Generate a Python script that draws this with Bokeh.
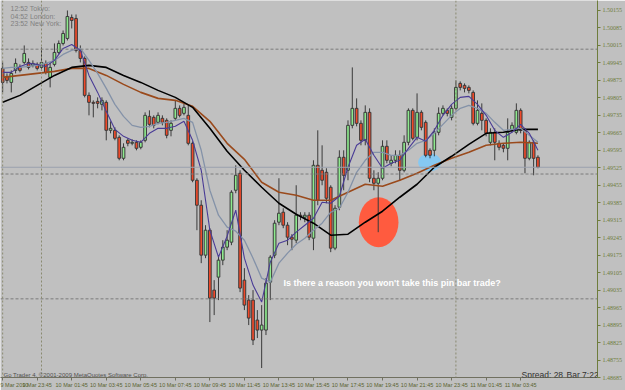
from bokeh.plotting import figure
from bokeh.models import FixedTicker, Span, Label, Range1d, PrintfTickFormatter
from bokeh.embed import file_html
from bokeh.resources import INLINE

# ---------------- data (M15 candles) ----------------
opens = [1.49923,1.49891,1.49867,1.49915,1.49927,1.49947,1.49947,1.49935,1.49939,1.49927,
         1.49943,1.49887,1.49939,1.49987,1.50023,1.50043,1.50127,1.50123,1.49995,1.49963,
         1.49815,1.49787,1.49791,1.49779,1.49787,1.49675,1.49675,1.49647,1.49563,1.49635,
         1.49623,1.49627,1.49607,1.49635,1.49731,1.49727,1.49707,1.49723,1.49715,1.49675,
         1.49723,1.49763,1.49743,1.49735,1.49623,1.49475,1.49375,1.49175,1.49275,1.49035,
         1.49087,1.49155,1.49207,1.49227,1.49435,1.49503,1.49075,1.48995,1.48995,1.48915,
         1.48875,1.48875,1.49067,1.49175,1.49307,1.49347,1.49295,1.49247,1.49235,1.49335,
         1.49327,1.49335,1.49243,1.49535,1.49515,1.49507,1.49447,1.49203,1.49367,1.49567,
         1.49515,1.49695,1.49763,1.49703,1.49635,1.49747,1.49483,1.49463,1.49483,1.49611,
         1.49543,1.49555,1.49575,1.49515,1.49627,1.49755,1.49647,1.49747,1.49707,1.49595,
         1.49595,1.49667,1.49743,1.49755,1.49727,1.49763,1.49863,1.49855,1.49847,1.49827,
         1.49703,1.49743,1.49715,1.49627,1.49667,1.49623,1.49615,1.49603,1.49675,1.49667,
         1.49755,1.49675,1.49563,1.49627,1.49567]
highs = [1.49947,1.49903,1.49915,1.49963,1.49939,1.50015,1.49963,1.49955,1.49947,1.50007,
         1.49955,1.49947,1.50023,1.50035,1.50075,1.50155,1.50139,1.50139,1.50015,1.49971,
         1.49827,1.49795,1.49807,1.49807,1.49795,1.49711,1.49687,1.49655,1.49623,1.49643,
         1.49639,1.49635,1.49635,1.49747,1.49755,1.49735,1.49747,1.49735,1.49723,1.49715,
         1.49795,1.49775,1.49783,1.49775,1.49631,1.49483,1.49395,1.49295,1.49283,1.49075,
         1.49175,1.49235,1.49275,1.49435,1.49535,1.49515,1.49123,1.49015,1.49035,1.48955,
         1.48975,1.49083,1.49175,1.49315,1.49483,1.49363,1.49307,1.49259,1.49455,1.49347,
         1.49347,1.49347,1.49555,1.49675,1.49615,1.49523,1.49455,1.49375,1.49595,1.49595,
         1.49715,1.49927,1.49803,1.49715,1.49775,1.49763,1.49515,1.49507,1.49635,1.49635,
         1.49575,1.49595,1.49595,1.49655,1.49763,1.49763,1.49823,1.49755,1.49715,1.49603,
         1.49683,1.49767,1.49775,1.49763,1.49775,1.49875,1.49871,1.49863,1.49855,1.49835,
         1.49795,1.49783,1.49723,1.49683,1.49683,1.49635,1.49623,1.49723,1.49707,1.49783,
         1.49763,1.49683,1.49635,1.49635,1.49575]
lows = [1.49827,1.49863,1.49827,1.49903,1.49907,1.49939,1.49919,1.49927,1.49915,1.49915,
        1.49899,1.49847,1.49931,1.49979,1.50015,1.50035,1.50083,1.49987,1.49947,1.49807,
        1.49735,1.49727,1.49763,1.49755,1.49635,1.49663,1.49635,1.49555,1.49555,1.49611,
        1.49615,1.49595,1.49599,1.49627,1.49687,1.49683,1.49699,1.49695,1.49643,1.49651,
        1.49715,1.49727,1.49735,1.49615,1.49467,1.49275,1.49143,1.49163,1.48907,1.48935,
        1.48995,1.49135,1.49195,1.49215,1.49423,1.49027,1.48955,1.48895,1.48815,1.48843,
        1.48723,1.48855,1.48995,1.49163,1.49295,1.49283,1.49215,1.49195,1.49223,1.49315,
        1.49307,1.49235,1.49195,1.49375,1.49455,1.49383,1.49187,1.49195,1.49355,1.49435,
        1.49475,1.49683,1.49691,1.49615,1.49615,1.49467,1.49435,1.49267,1.49475,1.49543,
        1.49531,1.49543,1.49475,1.49507,1.49615,1.49635,1.49635,1.49675,1.49567,1.49563,
        1.49571,1.49655,1.49735,1.49731,1.49715,1.49755,1.49835,1.49827,1.49823,1.49695,
        1.49695,1.49675,1.49651,1.49615,1.49555,1.49595,1.49587,1.49555,1.49667,1.49659,
        1.49663,1.49503,1.49555,1.49495,1.49523]
closes = [1.49867,1.49875,1.49903,1.49943,1.49915,1.49983,1.49927,1.49943,1.49923,1.49947,
          1.49907,1.49927,1.49987,1.50023,1.50063,1.50131,1.50115,1.49995,1.49963,1.49815,
          1.49787,1.49783,1.49783,1.49795,1.49675,1.49683,1.49643,1.49563,1.49607,1.49623,
          1.49627,1.49603,1.49627,1.49735,1.49699,1.49695,1.49735,1.49707,1.49655,1.49703,
          1.49763,1.49735,1.49767,1.49623,1.49475,1.49375,1.49175,1.49275,1.49003,1.49003,
          1.49155,1.49207,1.49235,1.49427,1.49495,1.49043,1.48975,1.48923,1.48835,1.48875,
          1.48895,1.49063,1.49167,1.49303,1.49343,1.49295,1.49247,1.49239,1.49335,1.49331,
          1.49335,1.49247,1.49535,1.49395,1.49475,1.49403,1.49203,1.49363,1.49567,1.49495,
          1.49695,1.49763,1.49703,1.49635,1.49747,1.49483,1.49463,1.49483,1.49611,1.49555,
          1.49555,1.49575,1.49515,1.49627,1.49755,1.49643,1.49747,1.49687,1.49575,1.49575,
          1.49667,1.49743,1.49763,1.49743,1.49763,1.49847,1.49847,1.49843,1.49835,1.49703,
          1.49755,1.49715,1.49663,1.49667,1.49627,1.49607,1.49603,1.49667,1.49695,1.49755,
          1.49675,1.49563,1.49627,1.49563,1.49527]

slow_bars = list(range(0, 125, 4))
black_ma = [1.49787,1.49815,1.49855,1.49895,1.49927,1.49935,1.49927,1.49895,1.49867,1.49835,
            1.49807,1.49767,1.49683,1.49591,1.49515,1.49447,1.49383,1.49339,1.49303,1.49255,
            1.49259,1.49307,1.49351,1.49407,1.49459,1.49527,1.49571,1.49619,1.49663,1.49667,
            1.49679,1.49679]
brown_ma = [1.49887,1.49895,1.49903,1.49911,1.49923,1.49923,1.49895,1.49859,1.49827,1.49803,
            1.49795,1.49771,1.49711,1.49623,1.49559,1.49467,1.49427,1.49415,1.49395,1.49395,
            1.49427,1.49459,1.49451,1.49475,1.49503,1.49535,1.49563,1.49587,1.49615,1.49623,
            1.49627,1.49623]
fast_bars = list(range(0, 125, 2))
purple_ma = [1.49907,1.49907,1.49931,1.49943,1.49939,1.49931,1.49955,1.50003,1.50019,1.49995,
             1.49895,1.49827,1.49751,1.49679,1.49651,1.49635,1.49627,1.49663,1.49683,1.49683,
             1.49691,1.49711,1.49635,1.49515,1.49275,1.49167,1.49251,1.49355,1.49163,1.49055,
             1.48987,1.49147,1.49223,1.49235,1.49267,1.49295,1.49323,1.49387,1.49383,1.49411,
             1.49527,1.49615,1.49639,1.49575,1.49523,1.49543,1.49555,1.49603,1.49647,1.49631,
             1.49675,1.49735,1.49779,1.49807,1.49811,1.49779,1.49735,1.49675,1.49647,1.49667,
             1.49699,1.49663,1.49595]
gray_ma = [1.49923,1.49927,1.49927,1.49931,1.49935,1.49943,1.49955,1.49979,1.49995,1.50003,
           1.49955,1.49903,1.49843,1.49779,1.49731,1.49695,1.49687,1.49691,1.49703,1.49707,
           1.49715,1.49723,1.49707,1.49595,1.49435,1.49335,1.49287,1.49271,1.49235,1.49163,
           1.49083,1.49067,1.49143,1.49183,1.49219,1.49243,1.49275,1.49303,1.49347,1.49363,
           1.49427,1.49507,1.49555,1.49587,1.49587,1.49575,1.49575,1.49595,1.49623,1.49635,
           1.49663,1.49699,1.49735,1.49763,1.49775,1.49763,1.49743,1.49707,1.49675,1.49679,
           1.49683,1.49655,1.49627]

time_ticks = list(range(0, 125, 8))
time_labels = ["9 Mar 2010", "9 Mar 23:45", "10 Mar 01:45", "10 Mar 03:45", "10 Mar 05:45",
               "10 Mar 07:45", "10 Mar 09:45", "10 Mar 11:45", "10 Mar 13:45", "10 Mar 15:45",
               "10 Mar 17:45", "10 Mar 19:45", "10 Mar 21:45", "10 Mar 23:45", "11 Mar 01:45",
               "11 Mar 03:45"]
price_ticks = [1.50155, 1.50085, 1.50015, 1.49945, 1.49875, 1.49805, 1.49735, 1.49665,
               1.49595, 1.49525, 1.49455, 1.49385, 1.49315, 1.49245, 1.49175, 1.49105,
               1.49035, 1.48965, 1.48895, 1.48825, 1.48755, 1.48685]
day_separators = [9, 105]
round_levels = [1.50000, 1.49500, 1.49000]
clock_lines = ["12:52 Tokyo:", "04:52 London:", "23:52 New York:"]
note_text = "Is there a reason you won't take this pin bar trade?"

# highlight ellipses (bar index, price, width in bars, height in price)
red_mark = (87.1, 1.49307, 9.2, 0.0020)
blue_mark = (98.9, 1.49547, 5.3, 0.00072)

# ---------------- figure ----------------
BG = "#c0c0c0"
AX = "#6e7d3c"
FONT = "Liberation Sans"

p = figure(width=625, height=390, output_backend="svg", toolbar_location=None,
           y_axis_location="right", x_range=Range1d(-0.5, 137.8),
           y_range=Range1d(1.48685, 1.50195),
           min_border_left=0, min_border_top=0, min_border_right=0, min_border_bottom=0)
p.background_fill_color = BG
p.border_fill_color = BG
p.outline_line_color = None
p.xgrid.visible = False
p.ygrid.visible = False

p.yaxis.ticker = FixedTicker(ticks=price_ticks)
p.yaxis.formatter = PrintfTickFormatter(format="%.5f")
p.yaxis.axis_line_color = AX
p.yaxis.major_tick_line_color = AX
p.yaxis.major_tick_out = 3
p.yaxis.major_tick_in = 0
p.yaxis.minor_tick_line_color = None
p.yaxis.major_label_text_font_size = "6px"
p.yaxis.major_label_text_color = AX
p.yaxis.major_label_text_font = "Liberation Sans Narrow"
p.yaxis.major_label_standoff = 2

p.xaxis.ticker = FixedTicker(ticks=time_ticks)
p.xaxis.major_label_overrides = {t: l for t, l in zip(time_ticks, time_labels)}
p.xaxis.axis_line_color = "#707060"
p.xaxis.major_tick_line_color = "#707060"
p.xaxis.major_tick_out = 3
p.xaxis.major_tick_in = 0
p.xaxis.minor_tick_line_color = None
p.xaxis.major_label_text_font_size = "5.5px"
p.xaxis.major_label_text_color = "#5a6430"
p.xaxis.major_label_text_font = FONT
p.xaxis.major_label_standoff = 1
p.xaxis.major_label_text_align = "left"

# levels and separators
for lv in round_levels:
    p.add_layout(Span(location=lv, dimension="width", line_color="#7a7a7a",
                      line_dash="3 2", line_width=1))
p.add_layout(Span(location=closes[-1], dimension="width", line_color="#9aa0ae", line_width=1))
p.add_layout(Span(location=0, dimension="height", line_color="#8a8a70", line_dash="2 2"))
for d in day_separators:
    p.add_layout(Span(location=d, dimension="height", line_color="#8a8a70", line_dash="2 2"))

# highlight ellipses
p.ellipse(x=[red_mark[0]], y=[red_mark[1]], width=[red_mark[2]], height=[red_mark[3]],
          fill_color="#ff5b3f", line_color=None)
p.ellipse(x=[blue_mark[0]], y=[blue_mark[1]], width=[blue_mark[2]], height=[blue_mark[3]],
          fill_color="#85c8f2", line_color=None)

# candles
idx = list(range(len(opens)))
tops = [max(o, c) for o, c in zip(opens, closes)]
bots = [min(o, c) for o, c in zip(opens, closes)]
fills = ["#8eea8e" if c >= o else "#f04a2a" for o, c in zip(opens, closes)]
p.segment(x0=idx, y0=lows, x1=idx, y1=highs, line_color="#3a3a3a", line_width=1)
p.vbar(x=idx, width=0.62, top=tops, bottom=bots, fill_color=fills,
       line_color="#3a3a3a", line_width=1)

# moving averages
p.line(slow_bars, brown_ma, line_color="#9a4a1c", line_width=1.6)
p.line(slow_bars, black_ma, line_color="#000000", line_width=1.6)
p.line(fast_bars, gray_ma, line_color="#8492a8", line_width=1.3)
p.line(fast_bars, purple_ma, line_color="#4a3c96", line_width=1.1)

# texts
for k, line in enumerate(clock_lines):
    p.add_layout(Label(x=10, y=369 - 7.5 * k, x_units="screen", y_units="screen", text=line,
                       text_baseline="middle", text_font_size="7px", text_font=FONT,
                       text_color="#808080"))
p.add_layout(Label(x=283, y=95, x_units="screen", y_units="screen", text=note_text,
                   text_baseline="middle", text_font_size="9px", text_font=FONT,
                   text_font_style="bold", text_color="#ffffff"))
p.add_layout(Label(x=3, y=3, x_units="screen", y_units="screen",
                   text="Go Trader 4, \u00a92001-2009 MetaQuotes Software Corp.",
                   text_baseline="middle", text_font_size="6px", text_font=FONT,
                   text_color="#505050"))
p.add_layout(Label(x=521, y=3, x_units="screen", y_units="screen", text="Spread: 28",
                   text_baseline="middle", text_font_size="8.5px", text_font=FONT,
                   text_color="#303030"))
p.add_layout(Label(x=566, y=3, x_units="screen", y_units="screen", text="Bar 7:22",
                   text_baseline="middle", text_font_size="8.5px", text_font=FONT,
                   text_color="#303030"))

open("out.html", "w").write(file_html(p, INLINE))
